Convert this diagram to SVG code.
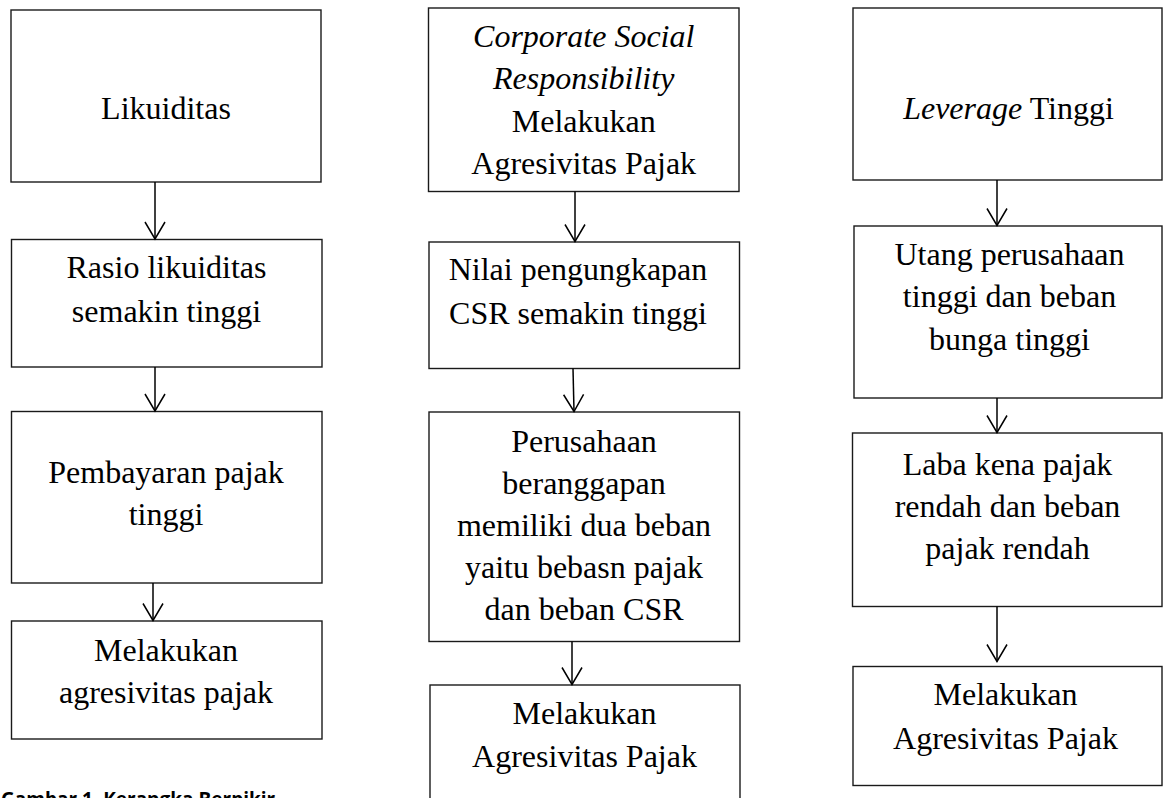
<svg xmlns="http://www.w3.org/2000/svg" width="1163" height="798" viewBox="0 0 1163 798">
<style>
.box{fill:#fff;stroke:#1a1a1a;stroke-width:1.4}
.t{font-family:"Liberation Serif","Times New Roman",serif;font-size:32px;fill:#000;text-anchor:middle}
.i{font-style:italic}
.con{stroke:#000;stroke-width:1.5;fill:none}
.cap{font-family:"Open Sans","Liberation Sans",sans-serif;font-weight:bold;font-size:19px;fill:#000}
</style>
<defs>
<marker id="arr" markerUnits="userSpaceOnUse" markerWidth="22" markerHeight="26" viewBox="-20 -13 22 26" refX="0" refY="0" orient="auto">
<path d="M-17,-10 L0,0 L-17,10" fill="none" stroke="#000" stroke-width="1.5"/>
</marker>
</defs>
<rect width="1163" height="798" fill="#fff"/>

<g id="n-likuiditas"><rect class="box" x="11" y="10" width="310" height="172"/><text class="t" x="166" y="119">Likuiditas</text></g>
<g id="n-rasio"><rect class="box" x="11.5" y="239.5" width="310.5" height="127.5"/><text class="t" x="166.5" y="278">Rasio likuiditas</text><text class="t" x="166.5" y="321.5">semakin tinggi</text></g>
<g id="n-pembayaran"><rect class="box" x="11.5" y="411.5" width="310.5" height="171.5"/><text class="t" x="166" y="482.5">Pembayaran pajak</text><text class="t" x="166" y="525">tinggi</text></g>
<g id="n-melakukan1"><rect class="box" x="11.5" y="621" width="310.5" height="118"/><text class="t" x="166" y="660.5">Melakukan</text><text class="t" x="166" y="703">agresivitas pajak</text></g>

<g id="n-csr"><rect class="box" x="428.5" y="8" width="310.5" height="183.5"/><text class="t i" x="583.7" y="46.5">Corporate Social</text><text class="t i" x="583.7" y="88.5">Responsibility</text><text class="t" x="583.7" y="131.5">Melakukan</text><text class="t" x="583.7" y="173.5">Agresivitas Pajak</text></g>
<g id="n-nilai"><rect class="box" x="429" y="242" width="310.5" height="126.5"/><text class="t" x="578" y="279.5">Nilai pengungkapan</text><text class="t" x="578" y="323.5">CSR semakin tinggi</text></g>
<g id="n-perusahaan"><rect class="box" x="429" y="412" width="310.5" height="229.5"/><text class="t" x="584" y="451.5">Perusahaan</text><text class="t" x="584" y="493.5">beranggapan</text><text class="t" x="584" y="535.5">memiliki dua beban</text><text class="t" x="584" y="577.5">yaitu bebasn pajak</text><text class="t" x="584" y="620">dan beban CSR</text></g>
<g id="n-melakukan2"><rect class="box" x="430" y="685" width="310" height="130"/><text class="t" x="584.5" y="723.5">Melakukan</text><text class="t" x="584.5" y="766.5">Agresivitas Pajak</text></g>

<g id="n-leverage"><rect class="box" x="853" y="8" width="309" height="172"/><text class="t" x="1008.5" y="118.5"><tspan class="i">Leverage</tspan> Tinggi</text></g>
<g id="n-utang"><rect class="box" x="854" y="226" width="308" height="172"/><text class="t" x="1009.5" y="265">Utang perusahaan</text><text class="t" x="1009.5" y="306.5">tinggi dan beban</text><text class="t" x="1009.5" y="350">bunga tinggi</text></g>
<g id="n-laba"><rect class="box" x="852.5" y="433" width="309.5" height="173.5"/><text class="t" x="1007.5" y="475">Laba kena pajak</text><text class="t" x="1007.5" y="516.5">rendah dan beban</text><text class="t" x="1007.5" y="558.5">pajak rendah</text></g>
<g id="n-melakukan3"><rect class="box" x="853" y="666.5" width="309" height="119"/><text class="t" x="1005.5" y="705">Melakukan</text><text class="t" x="1005.5" y="748.5">Agresivitas Pajak</text></g>

<g id="connectors">
<line class="con" x1="155" y1="182" x2="155" y2="239" marker-end="url(#arr)"/>
<line class="con" x1="155" y1="367" x2="155" y2="411" marker-end="url(#arr)"/>
<line class="con" x1="153" y1="583" x2="153" y2="620.5" marker-end="url(#arr)"/>
<line class="con" x1="575" y1="191.5" x2="575" y2="241.5" marker-end="url(#arr)"/>
<line class="con" x1="573" y1="368.5" x2="574" y2="411.5" marker-end="url(#arr)"/>
<line class="con" x1="572" y1="641.5" x2="572" y2="684.5" marker-end="url(#arr)"/>
<line class="con" x1="997" y1="180" x2="997" y2="225.5" marker-end="url(#arr)"/>
<line class="con" x1="997" y1="398" x2="997" y2="432.5" marker-end="url(#arr)"/>
<line class="con" x1="997" y1="606.5" x2="997" y2="661.5" marker-end="url(#arr)"/>
</g>

<text class="cap" x="1" y="806">Gambar 1. Kerangka Berpikir</text>
</svg>
